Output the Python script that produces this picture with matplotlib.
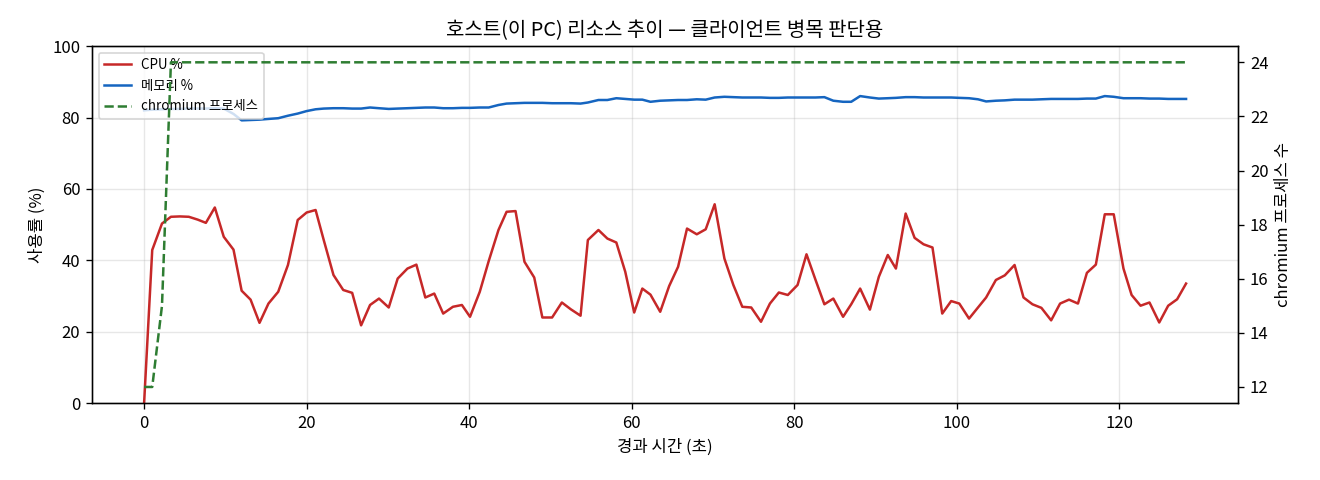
import matplotlib
matplotlib.use("Agg")
import matplotlib.pyplot as plt

plt.rcParams['font.family'] = ['Noto Sans CJK KR', 'DejaVu Sans']
plt.rcParams['axes.unicode_minus'] = False

# elapsed seconds of each sample
elapsed = [
    0.0, 1.0, 2.2, 3.3, 4.4, 5.5, 6.6, 7.6, 8.7, 9.8,
    11.0, 12.0, 13.1, 14.2, 15.3, 16.5, 17.7, 18.9, 20.0, 21.1,
    22.1, 23.3, 24.5, 25.6, 26.7, 27.8, 28.9, 30.1, 31.2, 32.4,
    33.5, 34.6, 35.7, 36.8, 38.0, 39.1, 40.1, 41.3, 42.4, 43.6,
    44.6, 45.7, 46.8, 48.0, 49.0, 50.2, 51.4, 52.5, 53.7, 54.6,
    55.9, 57.0, 58.1, 59.2, 60.3, 61.3, 62.3, 63.5, 64.6, 65.7,
    66.8, 68.0, 69.1, 70.2, 71.4, 72.5, 73.6, 74.7, 75.9, 77.0,
    78.1, 79.2, 80.4, 81.5, 82.6, 83.7, 84.8, 86.0, 87.0, 88.1,
    89.3, 90.4, 91.5, 92.5, 93.7, 94.8, 95.9, 97.0, 98.2, 99.3,
    100.3, 101.5, 102.6, 103.6, 104.8, 105.9, 107.1, 108.2, 109.3, 110.4,
    111.6, 112.7, 113.8, 114.9, 116.0, 117.1, 118.2, 119.3, 120.5, 121.5,
    122.6, 123.7, 124.9, 126.0, 127.1, 128.2,
]

cpu_pct = [
    0.0, 42.9, 50.3, 52.2, 52.3, 52.2, 51.4, 50.5, 54.8, 46.6,
    43.0, 31.5, 29.0, 22.5, 27.9, 31.2, 38.7, 51.3, 53.4, 54.1,
    45.7, 35.9, 31.7, 30.9, 21.8, 27.5, 29.3, 26.8, 34.9, 37.7,
    38.8, 29.6, 30.7, 25.1, 27.0, 27.5, 24.2, 31.2, 39.8, 48.5,
    53.6, 53.8, 39.6, 35.2, 24.0, 24.0, 28.2, 26.3, 24.5, 45.7,
    48.5, 46.1, 45.0, 36.8, 25.4, 32.1, 30.4, 25.6, 32.8, 38.2,
    48.9, 47.3, 48.7, 55.7, 40.5, 33.1, 27.0, 26.8, 22.8, 27.9,
    31.0, 30.3, 33.1, 41.7, 34.6, 27.7, 29.3, 24.2, 27.7, 32.1,
    26.2, 35.4, 41.5, 37.7, 53.1, 46.3, 44.5, 43.6, 25.1, 28.6,
    27.9, 23.7, 26.8, 29.6, 34.5, 35.8, 38.7, 29.6, 27.7, 26.7,
    23.2, 27.9, 29.0, 27.9, 36.5, 38.8, 52.9, 52.9, 37.7, 30.3,
    27.3, 28.2, 22.6, 27.3, 29.1, 33.5,
]

mem_pct = [
    82.0, 82.2, 82.3, 82.4, 82.4, 82.5, 82.5, 82.5, 82.6, 82.5,
    81.0, 79.2, 79.3, 79.4, 79.6, 79.8, 80.5, 81.1, 81.8, 82.3,
    82.5, 82.6, 82.6, 82.5, 82.5, 82.8, 82.6, 82.4, 82.5, 82.6,
    82.7, 82.8, 82.8, 82.6, 82.6, 82.7, 82.7, 82.8, 82.8, 83.5,
    83.9, 84.0, 84.1, 84.1, 84.1, 84.0, 84.0, 84.0, 83.9, 84.2,
    84.9, 84.9, 85.4, 85.2, 85.0, 85.0, 84.4, 84.7, 84.8, 84.9,
    84.9, 85.1, 85.0, 85.6, 85.8, 85.7, 85.6, 85.6, 85.6, 85.5,
    85.5, 85.6, 85.6, 85.6, 85.6, 85.7, 84.7, 84.4, 84.4, 86.0,
    85.6, 85.3, 85.4, 85.5, 85.7, 85.7, 85.6, 85.6, 85.6, 85.6,
    85.5, 85.4, 85.1, 84.5, 84.7, 84.8, 85.0, 85.0, 85.0, 85.1,
    85.2, 85.2, 85.2, 85.2, 85.3, 85.3, 86.0, 85.8, 85.4, 85.4,
    85.4, 85.3, 85.3, 85.2, 85.2, 85.2,
]

chromium_procs = [12, 12, 15, 24] + [24] * (len(elapsed) - 4)

fig, ax = plt.subplots(figsize=(11, 4), dpi=120)
fig.subplots_adjust(left=0.0697, right=0.938, top=0.904, bottom=0.160)

l1, = ax.plot(elapsed, cpu_pct, color='#c62828', lw=1.5, label='CPU %')
l2, = ax.plot(elapsed, mem_pct, color='#1565c0', lw=1.5, label='메모리 %')
ax.set_ylim(0, 100)
ax.set_ylabel('사용률 (%)')
ax.set_xlabel('경과 시간 (초)')
ax.grid(True, alpha=0.3)

ax2 = ax.twinx()
l3, = ax2.plot(elapsed, chromium_procs, color='#2e7d32', lw=1.5, ls='--',
               label='chromium 프로세스')
ax2.set_ylabel('chromium 프로세스 수')

ax.legend(handles=[l1, l2, l3], loc='upper left', fontsize=8)
ax.set_title('호스트(이 PC) 리소스 추이 — 클라이언트 병목 판단용')

fig.savefig('out.png', dpi=120)
